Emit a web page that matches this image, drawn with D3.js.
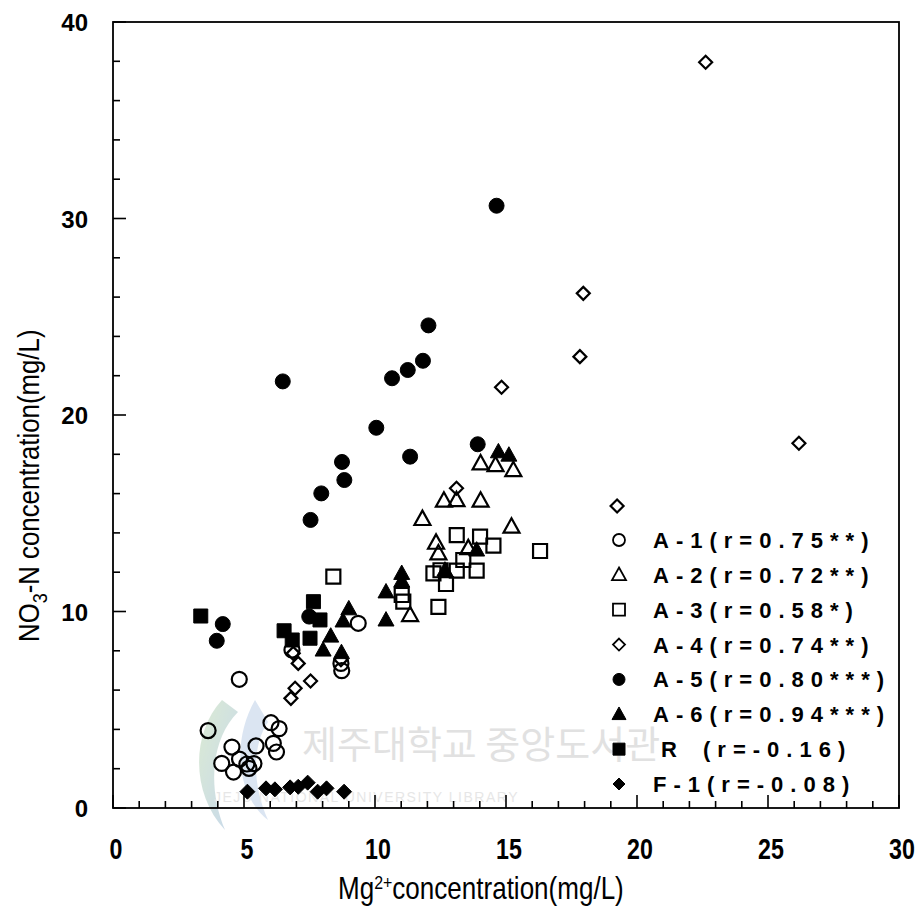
<!DOCTYPE html>
<html>
<head>
<meta charset="utf-8">
<script src="https://cdn.jsdelivr.net/npm/d3@7"></script>
<style>
  html, body { margin: 0; padding: 0; background: #fff; }
  svg { display: block; }
</style>
</head>
<body>
<svg id="chart"></svg>
<script>
// series values: [Mg2+, NO3-N]
const a1 = [[4.82, 6.55], [3.63, 3.94], [6.03, 4.34], [6.34, 4.04], [4.54, 3.10], [5.46, 3.16],
  [6.12, 3.29], [6.24, 2.85], [4.83, 2.49], [4.15, 2.27], [5.11, 2.24], [5.38, 2.26],
  [4.60, 1.83], [5.19, 2.02], [9.36, 9.40], [8.70, 7.36], [8.73, 6.99], [6.83, 8.04]];
const a2 = [[14.03, 17.54], [14.60, 17.45], [15.28, 17.20], [12.63, 15.64], [13.11, 15.67],
  [14.03, 15.64], [11.81, 14.71], [15.21, 14.32], [12.33, 13.50], [12.42, 12.96],
  [13.56, 13.22], [11.34, 9.82]];
const a3 = [[13.12, 13.89], [14.01, 13.81], [14.52, 13.35], [16.30, 13.08], [13.37, 12.62],
  [13.88, 12.08], [13.12, 12.08], [12.23, 11.94], [12.50, 12.10], [12.71, 11.40],
  [11.02, 10.84], [11.08, 10.50], [12.42, 10.24], [8.41, 11.77]];
const a4 = [[22.62, 37.95], [17.95, 26.19], [17.82, 22.97], [26.18, 18.56], [14.83, 21.41],
  [13.11, 16.27], [19.24, 15.37], [6.88, 7.87], [7.07, 7.36], [7.54, 6.46], [6.95, 6.09],
  [6.79, 5.58], [8.70, 7.55]];
const a5 = [[14.64, 30.65], [12.04, 24.56], [11.83, 22.76], [11.25, 22.29], [10.65, 21.87],
  [6.48, 21.71], [10.05, 19.35], [13.92, 18.51], [11.34, 17.88], [8.74, 17.61],
  [8.83, 16.69], [7.95, 16.01], [7.54, 14.66], [4.19, 9.36], [3.96, 8.51], [7.49, 9.74]];
const a6 = [[8.02, 8.04], [8.31, 8.75], [8.72, 7.91], [9.00, 10.14], [8.78, 9.52],
  [10.42, 11.00], [10.42, 9.57], [11.02, 11.94], [11.02, 11.55], [12.67, 12.11],
  [13.88, 13.13], [14.71, 18.13], [15.11, 17.96]];
const r1 = [[3.35, 9.77], [6.53, 9.02], [6.84, 8.55], [7.65, 10.50], [7.52, 8.64], [7.90, 9.57]];
const f1 = [[5.13, 0.83], [5.84, 1.00], [6.18, 0.95], [6.76, 1.05], [7.07, 1.08], [7.43, 1.29],
  [7.81, 0.83], [8.15, 1.00], [8.82, 0.83]];

const legendLabels = ["A-1(r=0.75**)", "A-2(r=0.72**)", "A-3(r=0.58*)", "A-4(r=0.74**)",
  "A-5(r=0.80***)", "A-6(r=0.94***)", "R", "F-1(r=-0.08)"];
const xTicks = [0, 5, 10, 15, 20, 25, 30];
const yTicks = [0, 10, 20, 30, 40];

const W = 922, H = 909;
const svg = d3.select("#chart").attr("width", W).attr("height", H);

const x = d3.scaleLinear().domain([0, 30]).range([113, 899]);
const y = d3.scaleLinear().domain([0, 40]).range([808, 22]);

const sans = "'Liberation Sans', Arial, sans-serif";

// marker shapes
function shape(kind, s) {
  const p = d3.path();
  if (kind === "circle") {
    p.arc(0, 0, s / 2, 0, 2 * Math.PI);
  } else if (kind === "triangle") {
    const h = s * 0.9;
    p.moveTo(0, -h * 0.58); p.lineTo(s / 2, h * 0.42); p.lineTo(-s / 2, h * 0.42); p.closePath();
  } else if (kind === "square") {
    p.rect(-s / 2, -s / 2, s, s);
  } else {
    const r = s / 2;
    p.moveTo(0, -r); p.lineTo(r, 0); p.lineTo(0, r); p.lineTo(-r, 0); p.closePath();
  }
  return p.toString();
}

const series = [
  { data: a1, kind: "circle", fill: false, size: 15 },
  { data: a2, kind: "triangle", fill: false, size: 16 },
  { data: a3, kind: "square", fill: false, size: 14 },
  { data: a4, kind: "diamond", fill: false, size: 13 },
  { data: a5, kind: "circle", fill: true, size: 15 },
  { data: a6, kind: "triangle", fill: true, size: 16 },
  { data: r1, kind: "square", fill: true, size: 14 },
  { data: f1, kind: "diamond", fill: true, size: 15 }
];

// watermark (library stamp)
const wm = svg.append("g").attr("opacity", 0.5);
const grad = svg.append("defs").append("linearGradient").attr("id", "wmg")
  .attr("x1", 0).attr("x2", 1).attr("y1", 0).attr("y2", 1);
grad.append("stop").attr("offset", 0).attr("stop-color", "#b9d8a8");
grad.append("stop").attr("offset", 1).attr("stop-color", "#8fb2dc");
wm.append("path")
  .attr("d", "M222,700 C190,735 192,795 225,830 C208,790 210,740 238,712 Z")
  .attr("fill", "url(#wmg)");
wm.append("path")
  .attr("d", "M255,700 C232,740 236,795 268,820 C252,785 252,745 268,722 Z")
  .attr("fill", "#b8cce6");
wm.append("text").attr("x", 302).attr("y", 758)
  .attr("font-family", "'Noto Sans CJK KR', sans-serif").attr("font-size", 38)
  .attr("fill", "#c4c4c4").text("제주대학교 중앙도서관");
wm.append("text").attr("x", 214).attr("y", 802)
  .attr("font-family", sans).attr("font-size", 14)
  .attr("letter-spacing", 1.5).attr("fill", "#cfcfcf").text("JEJU NATIONAL UNIVERSITY  LIBRARY");

// frame
svg.append("rect").attr("x", x(0)).attr("y", y(40))
  .attr("width", x(30) - x(0)).attr("height", y(0) - y(40))
  .attr("fill", "none").attr("stroke", "#000").attr("stroke-width", 1.8);

// inward ticks
const tickG = svg.append("g").attr("stroke", "#000").attr("stroke-width", 1.6);
d3.range(0, 31, 1).forEach(v => {
  const len = v % 5 === 0 ? 13 : 7;
  tickG.append("line").attr("x1", x(v)).attr("x2", x(v)).attr("y1", y(0)).attr("y2", y(0) - len);
});
d3.range(0, 41, 2).forEach(v => {
  const len = v % 10 === 0 ? 13 : 7;
  tickG.append("line").attr("x1", x(0)).attr("x2", x(0) + len).attr("y1", y(v)).attr("y2", y(v));
});

// tick labels (narrow look made by squeezing the glyphs)
svg.append("g").selectAll("text").data(xTicks).join("text")
  .attr("transform", d => `translate(${x(d) + 3},859) scale(0.8,1)`)
  .attr("text-anchor", "middle")
  .attr("font-family", sans).attr("font-weight", "bold").attr("font-size", 29)
  .text(d => d);
svg.append("g").selectAll("text").data(yTicks).join("text")
  .attr("x", 88).attr("y", d => y(d) + 9)
  .attr("text-anchor", "end")
  .attr("font-family", sans).attr("font-weight", "bold").attr("font-size", 24)
  .text(d => d);

// axis titles
const xt = svg.append("text").attr("transform", "translate(338,899) scale(0.84,1)")
  .attr("font-family", sans).attr("font-size", 31);
xt.append("tspan").text("Mg");
xt.append("tspan").attr("dy", -10).attr("font-size", 19).text("2+");
xt.append("tspan").attr("dy", 10).text("concentration(mg/L)");

const yt = svg.append("text")
  .attr("transform", "translate(39,642) rotate(-90) scale(0.86,1)")
  .attr("font-family", sans).attr("font-size", 30);
yt.append("tspan").text("NO");
yt.append("tspan").attr("dy", 8).attr("font-size", 21).text("3");
yt.append("tspan").attr("dy", -8).text("-N concentration(mg/L)");

// points
series.forEach(s => {
  svg.append("g").selectAll("path").data(s.data).join("path")
    .attr("transform", d => `translate(${x(d[0])},${y(d[1])})`)
    .attr("d", shape(s.kind, s.size))
    .attr("fill", s.fill ? "#000" : "#fff")
    .attr("fill-opacity", s.fill ? 1 : 0)
    .attr("stroke", "#000")
    .attr("stroke-width", s.fill ? 1 : 2.2);
});

// legend
const legY = d3.scaleLinear().domain([0, 7]).range([540, 784]);
const leg = svg.append("g");
series.forEach((s, i) => {
  const ly = legY(i);
  leg.append("path")
    .attr("transform", `translate(619,${ly})`)
    .attr("d", shape(s.kind, s.kind === "triangle" ? 14 : 12))
    .attr("fill", s.fill ? "#000" : "none")
    .attr("stroke", "#000").attr("stroke-width", s.fill ? 1 : 1.8);
  const t = leg.append("text").attr("y", ly + 8)
    .attr("font-family", sans).attr("font-weight", "bold").attr("font-size", 22)
    .attr("letter-spacing", 7);
  if (legendLabels[i] === "R") {
    t.attr("x", 661).text("R");
    leg.append("text").attr("x", 703).attr("y", ly + 8)
      .attr("font-family", sans).attr("font-weight", "bold").attr("font-size", 22)
      .attr("letter-spacing", 7).text("(r=-0.16)");
  } else {
    t.attr("x", 653).text(legendLabels[i]);
  }
});
</script>
</body>
</html>
